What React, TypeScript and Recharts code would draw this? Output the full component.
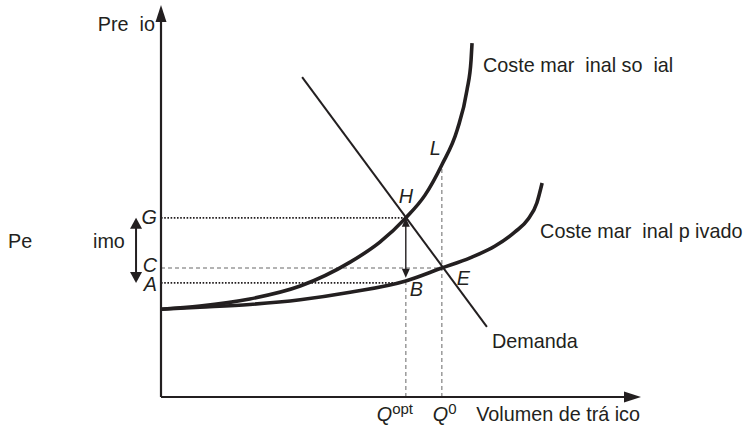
import React from "react";
import { ComposedChart, Line, XAxis, YAxis, ReferenceLine, ReferenceDot } from "recharts";

// Marginal private cost curve (quantity, price)
const privateCost = [
  { x: 0, y: 22.4 }, { x: 8.1, y: 22.9 }, { x: 18.5, y: 23.6 }, { x: 29.0, y: 24.8 },
  { x: 39.4, y: 26.7 }, { x: 51.0, y: 29.6 }, { x: 58.5, y: 32.9 }, { x: 64.4, y: 35.5 },
  { x: 69.6, y: 38.5 }, { x: 73.75, y: 42.1 }, { x: 76.5, y: 45.4 }, { x: 78.3, y: 49.5 },
  { x: 79.4, y: 54.6 },
];
// Marginal social cost curve
const socialCost = [
  { x: 0, y: 22.4 }, { x: 8.1, y: 23.2 }, { x: 18.5, y: 25.0 }, { x: 29.0, y: 28.3 },
  { x: 39.4, y: 34.4 }, { x: 45.6, y: 39.5 }, { x: 51.0, y: 45.7 }, { x: 55.0, y: 51.5 },
  { x: 58.5, y: 59.2 }, { x: 61.7, y: 68.1 }, { x: 63.75, y: 78.3 }, { x: 64.6, y: 86.0 },
  { x: 64.8, y: 90.3 },
];
// Demand (straight line)
const demand = [{ x: 29.4, y: 81.6 }, { x: 67.9, y: 17.9 }];

// Key levels
const Q_OPT = 51.0;
const Q_ZERO = 58.5;
const P_G = 45.7;
const P_C = 32.9;
const P_A = 29.1;
const P_L = 59.2;

// Texts
const T_PRICE = "Pre  io";
const T_QTY = "Volumen de trá ico";
const T_SOCIAL = "Coste mar  inal so  ial";
const T_PRIVATE = "Coste mar  inal p ivado";
const T_DEMAND = "Demanda";
const T_LEFT1 = "Pe";
const T_LEFT2 = "imo";

const INK = "#231f20";
const GRAY = "#9a9a9a";
const FONT = "'Liberation Sans', Arial, Helvetica, sans-serif";
const FS = 19.8;

function arrowShape(len: number, hw: number, width: number, both: boolean) {
  return (props: any) => {
    const { x1, y1, x2, y2 } = props;
    const dx = x2 - x1, dy = y2 - y1;
    const d = Math.sqrt(dx * dx + dy * dy) || 1;
    const ux = dx / d, uy = dy / d;
    const nx = -uy, ny = ux;
    const head = (tx: number, ty: number, sx: number, sy: number) => {
      const bx = tx - sx * len, by = ty - sy * len;
      return `${tx},${ty} ${bx + nx * hw},${by + ny * hw} ${bx - nx * hw},${by - ny * hw}`;
    };
    const sx = both ? x1 + ux * (len - 1) : x1;
    const sy = both ? y1 + uy * (len - 1) : y1;
    const ex = x2 - ux * (len - 1), ey = y2 - uy * (len - 1);
    return (
      <g>
        <line x1={sx} y1={sy} x2={ex} y2={ey} stroke={INK} strokeWidth={width} />
        <polygon points={head(x2, y2, ux, uy)} fill={INK} />
        {both && <polygon points={head(x1, y1, -ux, -uy)} fill={INK} />}
      </g>
    );
  };
}

function textShape(text: React.ReactNode, dx: number, dy: number, anchor: string, italic = false, size = FS) {
  return (props: any) => (
    <text
      x={props.cx + dx}
      y={props.cy + dy}
      textAnchor={anchor as any}
      fontFamily={FONT}
      fontSize={size}
      fontStyle={italic ? "italic" : "normal"}
      fill={INK}
      xmlSpace="preserve"
      style={{ whiteSpace: "pre" }}
    >
      {text}
    </text>
  );
}

export default function App() {
  return (
    <div style={{ position: "absolute", left: 0, top: 0, width: 747, height: 427, background: "#fff" }}>
      <ComposedChart
        width={747}
        height={427}
        margin={{ top: 5, right: 106, bottom: 30, left: 161 }}
      >
        <XAxis type="number" dataKey="x" domain={[0, 100]} hide allowDataOverflow />
        <YAxis type="number" dataKey="y" domain={[0, 100]} hide allowDataOverflow />

        {/* guide lines */}
        <ReferenceLine segment={[{ x: 0, y: P_C }, { x: Q_ZERO, y: P_C }]} stroke={GRAY} strokeWidth={1.5} strokeDasharray="4 3" ifOverflow="visible" />
        <ReferenceLine segment={[{ x: Q_OPT, y: 0 }, { x: Q_OPT, y: P_A }]} stroke={GRAY} strokeWidth={1.5} strokeDasharray="4 3" ifOverflow="visible" />
        <ReferenceLine segment={[{ x: Q_ZERO, y: 0 }, { x: Q_ZERO, y: P_L }]} stroke={GRAY} strokeWidth={1.5} strokeDasharray="4 3" ifOverflow="visible" />
        <ReferenceLine segment={[{ x: 0, y: P_G }, { x: Q_OPT, y: P_G }]} stroke={INK} strokeWidth={1.8} strokeDasharray="1.6 1.6" ifOverflow="visible" />
        <ReferenceLine segment={[{ x: 0, y: P_A }, { x: Q_OPT - 1, y: P_A }]} stroke={INK} strokeWidth={1.8} strokeDasharray="1.6 1.6" ifOverflow="visible" />

        {/* curves */}
        <Line data={privateCost} dataKey="y" type="monotone" stroke={INK} strokeWidth={3.6} dot={false} isAnimationActive={false} />
        <Line data={socialCost} dataKey="y" type="monotone" stroke={INK} strokeWidth={3.6} dot={false} isAnimationActive={false} />
        <Line data={demand} dataKey="y" type="linear" stroke={INK} strokeWidth={2} dot={false} isAnimationActive={false} />

        {/* axes */}
        <ReferenceLine segment={[{ x: 0, y: 0 }, { x: 0, y: 100 }]} shape={arrowShape(17, 5.5, 2.2, false)} ifOverflow="visible" />
        <ReferenceLine segment={[{ x: 0, y: 0 }, { x: 100, y: 0 }]} shape={arrowShape(17, 5.5, 2.2, false)} ifOverflow="visible" />

        {/* double arrows */}
        <ReferenceLine segment={[{ x: -5.2, y: P_A }, { x: -5.2, y: P_G }]} shape={arrowShape(11, 6, 2, true)} ifOverflow="visible" />
        <ReferenceLine segment={[{ x: Q_OPT, y: P_A + 1.3 }, { x: Q_OPT, y: P_G }]} shape={arrowShape(9, 4, 1.4, true)} ifOverflow="visible" />

        {/* labels */}
        <ReferenceDot x={0} y={P_G} r={0} ifOverflow="visible" shape={textShape("G", -4, 6, "end", true)} />
        <ReferenceDot x={0} y={P_C} r={0} ifOverflow="visible" shape={textShape("C", -4, 4, "end", true)} />
        <ReferenceDot x={0} y={P_A} r={0} ifOverflow="visible" shape={textShape("A", -4, 8, "end", true)} />
        <ReferenceDot x={Q_OPT} y={P_G} r={0} ifOverflow="visible" shape={textShape("H", 0, -15, "middle", true)} />
        <ReferenceDot x={Q_ZERO} y={P_L} r={0} ifOverflow="visible" shape={textShape("L", -12, -10, "start", true)} />
        <ReferenceDot x={Q_OPT} y={P_A} r={0} ifOverflow="visible" shape={textShape("B", 4, 13, "start", true)} />
        <ReferenceDot x={Q_ZERO} y={P_C} r={0} ifOverflow="visible" shape={textShape("E", 15, 17, "start", true)} />
        <ReferenceDot x={Q_OPT} y={0} r={0} ifOverflow="visible" shape={textShape(<><tspan fontStyle="italic">Q</tspan><tspan fontSize={15} dy={-7}>opt</tspan></>, -29, 24, "start")} />
        <ReferenceDot x={Q_ZERO} y={0} r={0} ifOverflow="visible" shape={textShape(<><tspan fontStyle="italic">Q</tspan><tspan fontSize={15} dy={-7}>0</tspan></>, -9, 24, "start")} />
        <ReferenceDot x={100} y={0} r={0} ifOverflow="visible" shape={textShape(T_QTY, -1, 24, "end")} />
        <ReferenceDot x={0} y={100} r={0} ifOverflow="visible" shape={textShape(T_PRICE, -6, 26, "end")} />
        <ReferenceDot x={64.8} y={90.3} r={0} ifOverflow="visible" shape={textShape(T_SOCIAL, 11, 29, "start")} />
        <ReferenceDot x={79.4} y={54.6} r={0} ifOverflow="visible" shape={textShape(T_PRIVATE, -2, 55, "start")} />
        <ReferenceDot x={67.9} y={17.9} r={0} ifOverflow="visible" shape={textShape(T_DEMAND, 5, 21, "start")} />
        <ReferenceDot x={0} y={(P_G + P_A) / 2} r={0} ifOverflow="visible" shape={textShape(T_LEFT1, -153, -2, "start")} />
        <ReferenceDot x={0} y={(P_G + P_A) / 2} r={0} ifOverflow="visible" shape={textShape(T_LEFT2, -68, -2, "start")} />
      </ComposedChart>
    </div>
  );
}
